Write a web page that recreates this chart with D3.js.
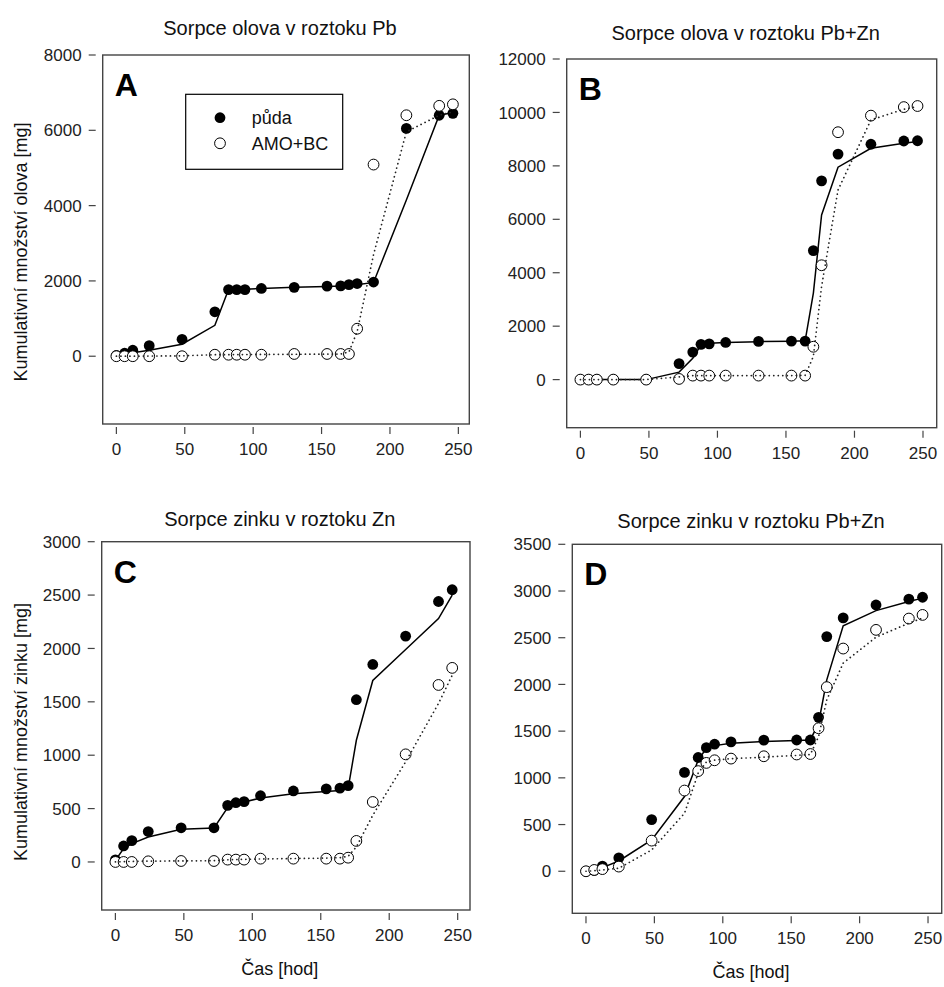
<!DOCTYPE html>
<html>
<head>
<meta charset="utf-8">
<script src="https://cdn.jsdelivr.net/npm/d3@7"></script>
<style>
  html, body { margin: 0; padding: 0; background: #fff; }
  svg { display: block; font-family: "Liberation Sans", Arial, sans-serif; }
  .frame { fill: none; stroke: #444; stroke-width: 1.4; }
  .tick-line { stroke: #444; stroke-width: 1.2; }
  .tick-label { font-size: 17px; fill: #222; }
  .panel-title { font-size: 20px; fill: #111; text-anchor: middle; }
  .axis-title { font-size: 18px; fill: #111; text-anchor: middle; }
  .panel-letter { font-size: 32px; font-weight: bold; fill: #000; }
  .fit-soil { fill: none; stroke: #000; stroke-width: 1.5; }
  .fit-amo { fill: none; stroke: #222; stroke-width: 1.7; stroke-dasharray: 0.1 4.4; stroke-linecap: round; }
  .dot-soil { fill: #000; }
  .dot-amo { fill: #fff; stroke: #000; stroke-width: 1; }
  .legend-box { fill: #fff; stroke: #000; stroke-width: 1.2; }
  .legend-text { font-size: 18px; fill: #111; }
</style>
</head>
<body>
<svg id="chart" width="944" height="987" viewBox="0 0 944 987"></svg>
<script>
// cumulative sorption of Pb / Zn on soil vs AMO+BC, four panels

const hours = [0, 6, 12, 24, 48, 72, 82, 88, 94, 106, 130, 154, 164, 170, 176, 188, 212, 236, 246];
const xTicks = [0, 50, 100, 150, 200, 250];

const titles = [
    "Sorpce olova v roztoku Pb",
    "Sorpce olova v roztoku Pb+Zn",
    "Sorpce zinku v roztoku Zn",
    "Sorpce zinku v roztoku Pb+Zn"
];
const legendLabels = ["půda", "AMO+BC"];
const yTitles = ["Kumulativní množství olova [mg]", "Kumulativní množství zinku [mg]"];
const xTitle = "Čas [hod]";

// A: Pb in Pb solution
const yTicksA = [0, 2000, 4000, 6000, 8000];
const soilA = [20, 80, 160, 280, 450, 1180, 1770, 1770, 1770, 1800, 1830, 1860, 1870, 1900, 1930, 1970, 6050, 6400, 6450];
const soilFitA = [0, 50, 90, 160, 320, 820, 1770, 1775, 1780, 1800, 1830, 1855, 1865, 1880, 1900, 1960, 4150, 6400, 6470];
const amoA = [0, 0, 0, 0, 0, 40, 40, 40, 40, 40, 60, 60, 60, 60, 730, 5090, 6400, 6650, 6690];
const amoFitA = [0, 0, 0, 5, 10, 40, 42, 44, 45, 48, 52, 56, 58, 114, 650, 2700, 5960, 6400, 6490];

// B: Pb in Pb+Zn solution
const yTicksB = [0, 2000, 4000, 6000, 8000, 10000, 12000];
const soilB = [0, 0, 0, 0, 0, 600, 1030, 1320, 1340, 1390, 1430, 1440, 1440, 4830, 7440, 8440, 8810, 8930, 8940];
const soilFitB = [0, 0, 0, 0, 0, 280, 800, 1300, 1360, 1390, 1420, 1440, 1450, 3240, 6160, 7950, 8660, 8850, 8910];
const amoB = [0, 0, 0, 0, 0, 25, 150, 150, 150, 150, 150, 150, 150, 1230, 4280, 9260, 9880, 10200, 10240];
const amoFitB = [0, 0, 0, 0, 0, 100, 150, 150, 150, 150, 150, 150, 160, 870, 3490, 7100, 9720, 10120, 10220];

// C: Zn in Zn solution
const yTicksC = [0, 500, 1000, 1500, 2000, 2500, 3000];
const soilC = [20, 150, 200, 285, 320, 320, 530, 555, 565, 620, 665, 685, 692, 715, 1520, 1850, 2115, 2440, 2550];
const soilFitC = [15, 125, 172, 234, 306, 318, 510, 540, 561, 599, 639, 661, 670, 690, 1140, 1700, 1990, 2280, 2500];
const amoC = [0, 0, 0, 6, 9, 9, 22, 22, 22, 31, 31, 31, 31, 40, 197, 562, 1008, 1658, 1818];
const amoFitC = [0, 3, 5, 8, 10, 12, 20, 22, 24, 28, 32, 36, 40, 53, 141, 438, 938, 1485, 1750];

// D: Zn in Pb+Zn solution
const yTicksD = [0, 500, 1000, 1500, 2000, 2500, 3000, 3500];
const soilD = [0, 10, 55, 143, 553, 1058, 1218, 1323, 1360, 1385, 1404, 1405, 1405, 1648, 2512, 2712, 2850, 2913, 2933];
const soilFitD = [0, 14, 39, 110, 335, 800, 1190, 1317, 1345, 1370, 1390, 1400, 1406, 1585, 2049, 2627, 2790, 2888, 2924];
const amoD = [0, 14, 23, 50, 328, 864, 1072, 1160, 1188, 1206, 1231, 1250, 1255, 1531, 1971, 2384, 2584, 2705, 2744];
const amoFitD = [0, 5, 14, 32, 228, 621, 1050, 1170, 1190, 1205, 1221, 1240, 1250, 1442, 1835, 2228, 2506, 2656, 2710];

(function () {
    if (typeof d3 === 'undefined') {
        console.error('D3.js not loaded');
        return;
    }

    const svg = d3.select("#chart");

    const panels = [
        { letter: "A", title: titles[0], titleY: 35, box: {left: 102.7, top: 55, right: 469.3, bottom: 424},
          xDomain: [-10, 258], yDomain: [-1800, 8000], yTicks: yTicksA,
          soil: soilA, soilFit: soilFitA, amo: amoA, amoFit: amoFitA, legend: true },
        { letter: "B", title: titles[1], titleY: 40, box: {left: 566.7, top: 59, right: 936.7, bottom: 427.7},
          xDomain: [-10, 260], yDomain: [-1800, 12000], yTicks: yTicksB,
          soil: soilB, soilFit: soilFitB, amo: amoB, amoFit: amoFitB },
        { letter: "C", title: titles[2], titleY: 526, box: {left: 101.7, top: 541.7, right: 470, bottom: 910},
          xDomain: [-10, 259], yDomain: [-450, 3000], yTicks: yTicksC,
          soil: soilC, soilFit: soilFitC, amo: amoC, amoFit: amoFitC, xLabel: true },
        { letter: "D", title: titles[3], titleY: 528, box: {left: 572.3, top: 544.3, right: 941.7, bottom: 913.3},
          xDomain: [-10, 260], yDomain: [-450, 3500], yTicks: yTicksD,
          soil: soilD, soilFit: soilFitD, amo: amoD, amoFit: amoFitD, xLabel: true }
    ];

    panels.forEach(p => drawPanel(p));

    // y axis titles (shared per row)
    svg.append("text")
        .attr("class", "axis-title")
        .attr("transform", "translate(27, 252) rotate(-90)")
        .text(yTitles[0]);
    svg.append("text")
        .attr("class", "axis-title")
        .attr("transform", "translate(27, 732) rotate(-90)")
        .text(yTitles[1]);

    function drawPanel(p) {
        const b = p.box;
        const x = d3.scaleLinear().domain(p.xDomain).range([b.left, b.right]);
        const y = d3.scaleLinear().domain(p.yDomain).range([b.bottom, b.top]);
        const g = svg.append("g").attr("class", "panel");

        g.append("text")
            .attr("class", "panel-title")
            .attr("x", (b.left + b.right) / 2 - 6)
            .attr("y", p.titleY)
            .text(p.title);

        g.append("rect")
            .attr("class", "frame")
            .attr("x", b.left).attr("y", b.top)
            .attr("width", b.right - b.left)
            .attr("height", b.bottom - b.top);

        // x ticks
        g.selectAll(".xtick")
            .data(xTicks)
            .join("line")
            .attr("class", "tick-line")
            .attr("x1", d => x(d)).attr("x2", d => x(d))
            .attr("y1", b.bottom + 3).attr("y2", b.bottom + 10);
        g.selectAll(".xlab")
            .data(xTicks)
            .join("text")
            .attr("class", "tick-label")
            .attr("x", d => x(d))
            .attr("y", b.bottom + 31)
            .attr("text-anchor", "middle")
            .text(d => d);

        // y ticks (offset from the frame, SigmaPlot style)
        g.selectAll(".ytick")
            .data(p.yTicks)
            .join("line")
            .attr("class", "tick-line")
            .attr("x1", b.left - 14).attr("x2", b.left - 7)
            .attr("y1", d => y(d)).attr("y2", d => y(d));
        g.selectAll(".ylab")
            .data(p.yTicks)
            .join("text")
            .attr("class", "tick-label")
            .attr("x", b.left - 21)
            .attr("y", d => y(d))
            .attr("dy", "0.36em")
            .attr("text-anchor", "end")
            .text(d => d);

        g.append("text")
            .attr("class", "panel-letter")
            .attr("x", b.left + 12)
            .attr("y", b.top + 41)
            .text(p.letter);

        const soilPts = hours.map((h, i) => ({t: h, v: p.soil[i]}));
        const amoPts = hours.map((h, i) => ({t: h, v: p.amo[i]}));
        const line = d3.line().x(d => x(d[0])).y(d => y(d[1]));

        g.append("path")
            .attr("class", "fit-soil")
            .attr("d", line(hours.map((h, i) => [h, p.soilFit[i]])));

        g.selectAll(".dot-soil")
            .data(soilPts)
            .join("circle")
            .attr("class", "dot-soil")
            .attr("cx", d => x(d.t))
            .attr("cy", d => y(d.v))
            .attr("r", 5.4);

        g.selectAll(".dot-amo")
            .data(amoPts)
            .join("circle")
            .attr("class", "dot-amo")
            .attr("cx", d => x(d.t))
            .attr("cy", d => y(d.v))
            .attr("r", 5.4);

        g.append("path")
            .attr("class", "fit-amo")
            .attr("d", line(hours.map((h, i) => [h, p.amoFit[i]])));

        if (p.xLabel) {
            g.append("text")
                .attr("class", "axis-title")
                .attr("x", (b.left + b.right) / 2 - 6)
                .attr("y", b.bottom + 65)
                .text(xTitle);
        }

        if (p.legend) {
            const lg = g.append("g").attr("class", "legend");
            lg.append("rect")
                .attr("class", "legend-box")
                .attr("x", 185.7).attr("y", 94.3)
                .attr("width", 157).attr("height", 75);
            const rows = [
                {label: legendLabels[0], cls: "dot-soil"},
                {label: legendLabels[1], cls: "dot-amo"}
            ];
            const row = lg.selectAll(".legend-row")
                .data(rows)
                .join("g")
                .attr("transform", (d, i) => `translate(220, ${117.7 + i * 25.6})`);
            row.append("circle")
                .attr("class", d => d.cls)
                .attr("r", 5.4);
            row.append("text")
                .attr("class", "legend-text")
                .attr("x", 31.7)
                .attr("dy", "0.36em")
                .text(d => d.label);
        }
    }
})();
</script>
</body>
</html>
